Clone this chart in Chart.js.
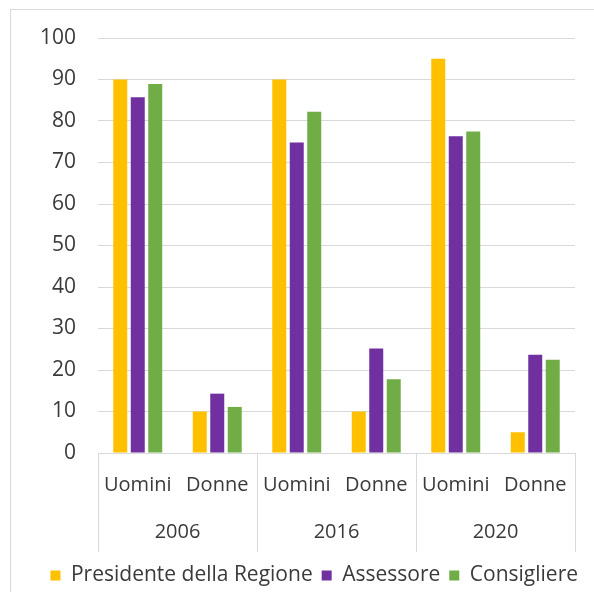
<!DOCTYPE html>
<html>
<head>
<meta charset="utf-8">
<script src="https://cdn.jsdelivr.net/npm/chart.js@4"></script>
<style>
  html, body { margin: 0; padding: 0; background: #fff; }
  #frame { position: absolute; left: 10px; top: 9px; width: 600px; height: 600px; border: 1px solid #d9d9d9; }
  #wrap { position: absolute; left: 0; top: 0; width: 594px; height: 592px; }
</style>
</head>
<body>
<div id="frame"></div>
<div id="wrap"><canvas id="chart"></canvas></div>
<script>
// data (percent)
const years = ['2006', '2016', '2020'];
const genders = ['Uomini', 'Donne'];
const presidente = [90, 10, 90, 10, 95, 5];
const assessore = [85.7, 14.3, 74.8, 25.2, 76.3, 23.7];
const consigliere = [88.9, 11.1, 82.2, 17.8, 77.5, 22.5];
const seriesNames = ['Presidente della Regione', 'Assessore', 'Consigliere'];

const labels = years.flatMap(() => genders);
const textColor = '#3a3a3a';
const gridColor = '#d9d9d9';
const font = { family: '"Open Sans", sans-serif', size: 20 };
const bigFont = { family: '"Open Sans", sans-serif', size: 21 };

// vertical separators between the year groups, below the plot
const separators = {
  id: 'separators',
  afterDraw(chart) {
    const x2 = chart.scales.x2;
    const ctx = chart.ctx;
    const top = chart.chartArea.bottom;
    ctx.save();
    ctx.strokeStyle = gridColor;
    ctx.lineWidth = 1;
    for (let i = 0; i <= years.length; i++) {
      const px = Math.round(x2.left + i * x2.width / years.length) + 0.5;
      ctx.beginPath();
      ctx.moveTo(px, top);
      ctx.lineTo(px, x2.bottom - 4);
      ctx.stroke();
    }
    ctx.restore();
  }
};

new Chart(document.getElementById('chart').getContext('2d'), {
  type: 'bar',
  data: {
    labels: labels,
    datasets: [
      { label: seriesNames[0], data: presidente, backgroundColor: '#FFC000' },
      { label: seriesNames[1], data: assessore, backgroundColor: '#7030A0' },
      { label: seriesNames[2], data: consigliere, backgroundColor: '#70AD47' }
    ]
  },
  options: {
    responsive: true,
    maintainAspectRatio: false,
    animation: false,
    datasets: { bar: { categoryPercentage: 0.66, barPercentage: 0.8 } },
    layout: { padding: { left: 10, right: 7, top: 38, bottom: -4 } },
    plugins: {
      tooltip: { enabled: false },
      legend: {
        position: 'bottom',
        align: 'end',
        labels: { color: textColor, font: bigFont, boxWidth: 10, boxHeight: 10, padding: 9 }
      }
    },
    scales: {
      y: {
        min: 0,
        max: 100,
        ticks: { stepSize: 10, color: textColor, font: bigFont, padding: 22 },
        grid: { color: gridColor, drawTicks: false },
        border: { display: false },
        afterFit: s => { s.width = 88; }
      },
      // empty strip on the right so the legend can reach further right than the plot
      yRight: {
        position: 'right',
        ticks: { display: false },
        grid: { display: false },
        border: { display: false },
        afterFit: s => { s.width = 12; }
      },
      x: {
        weight: 0,
        ticks: { color: textColor, font: font, padding: 12, maxRotation: 0, autoSkip: false },
        grid: { display: false },
        border: { display: false },
        afterFit: s => { s.height = 43; }
      },
      x2: {
        type: 'category',
        position: 'bottom',
        weight: 1,
        labels: years,
        offset: true,
        ticks: { color: textColor, font: font, padding: 16, maxRotation: 0 },
        grid: { display: false },
        border: { display: false },
        afterFit: s => { s.height = 60; }
      }
    }
  },
  plugins: [separators]
});
</script>
</body>
</html>
